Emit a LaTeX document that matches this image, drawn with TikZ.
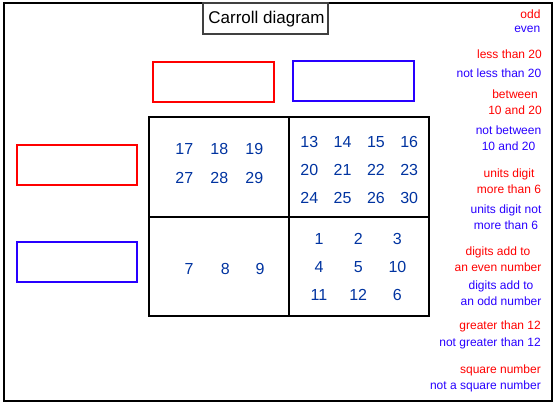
\documentclass[tikz,border=0pt]{standalone}
\usepackage{fontspec}
\setmainfont{Liberation Sans}
\definecolor{numblue}{HTML}{0033A0}
\definecolor{labblue}{RGB}{40,0,255}
\definecolor{labred}{RGB}{255,0,0}
\tikzset{
  num/.style={text=numblue,inner sep=0pt,font=\fontsize{16}{18}\selectfont},
  lab/.style={inner sep=0pt,align=center,font=\fontsize{12}{16}\selectfont},
  labR/.style={lab,text=labred},
  labB/.style={lab,text=labblue},
  slot/.style={line width=2pt}
}
\begin{document}
\begin{tikzpicture}[x=1pt,y=-1pt]
\useasboundingbox (0,0) rectangle (556,406);

% Cadre
\draw [line width=2pt] (3.5,3) rectangle (552,400.5);

% Titre
\draw [line width=1.3pt,black!75] (203,3) rectangle (328,34);
\node [inner sep=0pt,font=\fontsize{17}{20}\selectfont] (titre) at (266.5,19) {Carroll diagram};

% Cases vides
\draw [slot,labred]  (153.3,61.7) rectangle (274,101.7);
\draw [slot,labblue] (293.3,60.7) rectangle (414,100.7);
\draw [slot,labred]  (16.7,145) rectangle (137,184.7);
\draw [slot,labblue] (16.7,242) rectangle (137,282);

% Grille
\draw [line width=2pt] (149,117) rectangle (429,316);
\draw [line width=2pt] (289,117) -- (289,316);
\draw [line width=2pt] (149,217) -- (429,217);

% Nombres
\foreach \n [count=\i from 0] in {17,18,19}
  \node [num] (n\n) at (184.3+35*\i,149.3) {\n};
\foreach \n [count=\i from 0] in {27,28,29}
  \node [num] (n\n) at (184.3+35*\i,177.7) {\n};
\foreach \n [count=\i from 0] in {13,14,15,16}
  \node [num] (n\n) at (309.3+33.3*\i,142.3) {\n};
\foreach \n [count=\i from 0] in {20,21,22,23}
  \node [num] (n\n) at (309.3+33.3*\i,170.3) {\n};
\foreach \n [count=\i from 0] in {24,25,26,30}
  \node [num] (n\n) at (309.3+33.3*\i,198.3) {\n};
\foreach \n/\x in {7/189,8/225.3,9/260}
  \node [num] (n\n) at (\x,269) {\n};
\foreach \n [count=\i from 0] in {1,2,3}
  \node [num] (n\n) at (319+39.2*\i,239.3) {\n};
\foreach \n [count=\i from 0] in {4,5,10}
  \node [num] (n\n) at (319+39.2*\i,267.3) {\n};
\foreach \n [count=\i from 0] in {11,12,6}
  \node [num] (n\n) at (319+39.2*\i,295) {\n};

% Critères
\node [labR,anchor=east] (odd)     at (540.7,14)   {odd};
\node [labB,anchor=east] (even)    at (540.5,29.3) {even};
\node [labR,anchor=east] (lt)      at (542,54)     {less than 20};
\node [labB,anchor=east] (nlt)     at (541.5,73.3) {not less than 20};
\node [labR] (betw)   at (515,102.5)   {between\\10 and 20};
\node [labB] (nbetw)  at (508.5,138)   {not between\\10 and 20};
\node [labR] (units)  at (509,181)     {units digit\\more than 6};
\node [labB] (nunits) at (506,217)     {units digit not\\more than 6};
\node [labR] (deven)  at (498,259)     {digits add to\\an even number};
\node [labB] (dodd)   at (501,293)     {digits add to\\an odd number};
\node [labR,anchor=east] (gt)      at (541,326.7)  {greater than 12};
\node [labB,anchor=east] (ngt)     at (541,343.3)  {not greater than 12};
\node [labR,anchor=east] (sq)      at (541,370.3)  {square number};
\node [labB,anchor=east] (nsq)     at (541,386)    {not a square number};

\end{tikzpicture}
\end{document}
